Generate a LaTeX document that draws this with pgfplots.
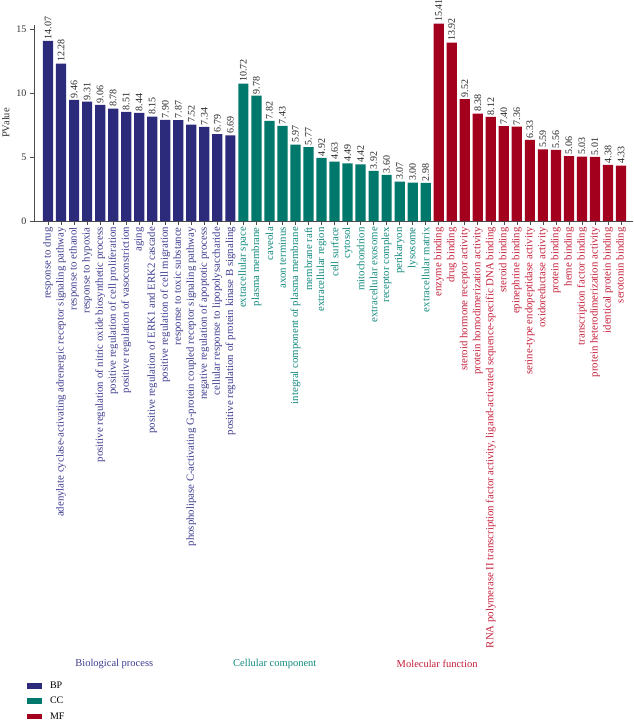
\documentclass[border=0pt]{standalone}
\usepackage{pgfplots}
\pgfplotsset{compat=1.18}
\usepackage{fontspec}
\setmainfont{Liberation Serif}
\definecolor{bpbar}{HTML}{2C2A7A}
\definecolor{ccbar}{HTML}{00786C}
\definecolor{mfbar}{HTML}{A3001E}
\definecolor{bptxt}{HTML}{3E3C90}
\definecolor{cctxt}{HTML}{128A7E}
\definecolor{mftxt}{HTML}{C41E3A}
\newcommand{\B}[1]{\textcolor{bptxt}{#1}}
\newcommand{\C}[1]{\textcolor{cctxt}{#1}}
\newcommand{\M}[1]{\textcolor{mftxt}{#1}}
\begin{document}
\begin{tikzpicture}
\begin{axis}[
  scale only axis,
  width=599pt, height=196pt,
  xmin=-1.08, xmax=44.92,
  ymin=0, ymax=15.3,
  clip=false,
  axis x line=bottom, axis y line=left,
  axis line style={-, black!70, line width=0.6pt},
  tick style={black!70, line width=0.6pt},
  tick align=outside,
  major tick length=4pt,
  ytick={0,5,10,15},
  yticklabel style={font=\fontsize{10}{12}\selectfont, text=black!80},
  /pgf/number format/assume math mode=true,
  ylabel={PValue},
  ylabel style={font=\fontsize{10.5}{12}\selectfont, text=black!80},
  xtick={0,...,44},
  xticklabels={
    \B{response to drug},
    \B{adenylate cyclase-activating adrenergic receptor signaling pathway},
    \B{response to ethanol},
    \B{response to hypoxia},
    \B{positive regulation of nitric oxide biosynthetic process},
    \B{positive regulation of cell proliferation},
    \B{positive regulation of vasoconstriction},
    \B{aging},
    \B{positive regulation of ERK1 and ERK2 cascade},
    \B{positive regulation of cell migration},
    \B{response to toxic substance},
    \B{phospholipase C-activating G-protein coupled receptor signaling pathway},
    \B{negative regulation of apoptotic process},
    \B{cellular response to lipopolysaccharide},
    \B{positive regulation of protein kinase B signaling},
    \C{extracellular space},
    \C{plasma membrane},
    \C{caveola},
    \C{axon terminus},
    \C{integral component of plasma membrane},
    \C{membrane raft},
    \C{extracellular region},
    \C{cell surface},
    \C{cytosol},
    \C{mitochondrion},
    \C{extracellular exosome},
    \C{receptor complex},
    \C{perikaryon},
    \C{lysosome},
    \C{extracellular matrix},
    \M{enzyme binding},
    \M{drug binding},
    \M{steroid hormone receptor activity},
    \M{protein homodimerization activity},
    {\M{RNA polymerase II transcription factor activity, ligand-activated sequence-specific DNA binding}},
    \M{steroid binding},
    \M{epinephrine binding},
    \M{serine-type endopeptidase activity},
    \M{oxidoreductase activity},
    \M{protein binding},
    \M{heme binding},
    \M{transcription factor binding},
    \M{protein heterodimerization activity},
    \M{identical protein binding},
    \M{serotonin binding}
  },
  xticklabel style={rotate=90, anchor=east, font=\fontsize{10.8}{12}\selectfont, inner sep=2pt},
  ybar, bar width=10.2pt, bar shift=0pt,
  nodes near coords={\pgfmathprintnumber[fixed,fixed zerofill,precision=2]{\pgfplotspointmeta}},
  nodes near coords style={rotate=90, anchor=west, font=\fontsize{10}{11}\selectfont, text=black!85, inner sep=1.5pt},
  legend image code/.code={\fill[#1] (0pt,-2.8pt) rectangle (15pt,2.8pt);},
  legend style={at={(axis description cs:-0.012,-2.34)}, anchor=north west, draw=none, fill=none,
    font=\fontsize{10}{12}\selectfont, row sep=3.3pt, inner sep=0pt,
    /tikz/every odd column/.append style={column sep=6pt}},
  legend cell align=left,
]
\coordinate (O) at (rel axis cs:0,0);
\addplot[fill=bpbar, draw=none] coordinates {
 (0,14.07) (1,12.28) (2,9.46) (3,9.31) (4,9.06) (5,8.78) (6,8.51) (7,8.44)
 (8,8.15) (9,7.90) (10,7.87) (11,7.52) (12,7.34) (13,6.79) (14,6.69)};
\addplot[fill=ccbar, draw=none] coordinates {
 (15,10.72) (16,9.78) (17,7.82) (18,7.43) (19,5.97) (20,5.77) (21,4.92) (22,4.63)
 (23,4.49) (24,4.42) (25,3.92) (26,3.60) (27,3.07) (28,3.00) (29,2.98)};
\addplot[fill=mfbar, draw=none] coordinates {
 (30,15.41) (31,13.92) (32,9.52) (33,8.38) (34,8.12) (35,7.40) (36,7.36) (37,6.33)
 (38,5.59) (39,5.56) (40,5.06) (41,5.03) (42,5.01) (43,4.38) (44,4.33)};
\legend{BP,CC,MF}
\node[text=bptxt, font=\fontsize{10.5}{12}\selectfont] at (axis description cs:0.134,-2.26) {Biological process};
\node[text=cctxt, font=\fontsize{10.5}{12}\selectfont] at (axis description cs:0.402,-2.26) {Cellular component};
\node[text=mftxt, font=\fontsize{10.5}{12}\selectfont] at (axis description cs:0.673,-2.26) {Molecular function};
\end{axis}
\pgfresetboundingbox
\path (O) ++(-34pt,-500pt) rectangle ++(634pt,721pt);
\end{tikzpicture}
\end{document}
